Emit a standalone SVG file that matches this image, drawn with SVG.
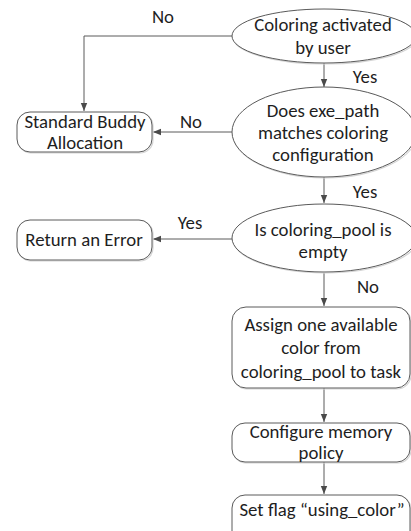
<svg xmlns="http://www.w3.org/2000/svg" width="411" height="531" viewBox="0 0 411 531">
  <style>
    .shape { fill: #ffffff; stroke: #5a5a5a; stroke-width: 1; }
    .shadow { fill: none; stroke: #d4d4d4; stroke-width: 1.2; }
    .t { font-family: Carlito, Lato, "Liberation Sans", sans-serif; font-size: 18.8px; fill: #1e1e1e; text-anchor: middle; }
    .lbl { font-family: Carlito, Lato, "Liberation Sans", sans-serif; font-size: 18.8px; fill: #1e1e1e; text-anchor: middle; }
    .conn { fill: none; stroke: #5a5a5a; stroke-width: 1; marker-end: url(#arrow); }
  </style>
  <defs>
    <marker id="arrow" viewBox="0 0 10 10" refX="10" refY="5" markerWidth="8" markerHeight="8" markerUnits="userSpaceOnUse" orient="auto">
      <path d="M0,1 L10,5 L0,9 Z" fill="#4a4a4a"/>
    </marker>
  </defs>
  <rect width="411" height="531" fill="#ffffff"/>

  <!-- connectors -->
  <g id="connectors">
    <path class="conn" d="M232,36 H84 V111"/>
    <path class="conn" d="M324,63 V87"/>
    <path class="conn" d="M232,132 H153"/>
    <path class="conn" d="M324,177 V203"/>
    <path class="conn" d="M232,239 H153"/>
    <path class="conn" d="M324,273 V306"/>
    <path class="conn" d="M324,388 V422"/>
    <path class="conn" d="M324,462 V494"/>
    <text class="lbl" x="163" y="23">No</text>
    <text class="lbl" x="365" y="83">Yes</text>
    <text class="lbl" x="191" y="128">No</text>
    <text class="lbl" x="365" y="198">Yes</text>
    <text class="lbl" x="190" y="229">Yes</text>
    <text class="lbl" x="368" y="293">No</text>
  </g>

  <g id="coloring-activated">
    <ellipse class="shadow" cx="325" cy="37" rx="92" ry="27"/>
    <ellipse class="shape" cx="324" cy="36" rx="92" ry="27"/>
    <text class="t" x="323" y="31">Coloring activated</text>
    <text class="t" x="323" y="54">by user</text>
  </g>

  <g id="exe-path-match">
    <ellipse class="shadow" cx="325" cy="133" rx="92" ry="45"/>
    <ellipse class="shape" cx="324" cy="132" rx="92" ry="45"/>
    <text class="t" x="323" y="117">Does exe_path</text>
    <text class="t" x="323" y="139">matches coloring</text>
    <text class="t" x="323" y="161">configuration</text>
  </g>

  <g id="pool-empty">
    <ellipse class="shadow" cx="325" cy="239" rx="92" ry="34"/>
    <ellipse class="shape" cx="324" cy="238" rx="92" ry="34"/>
    <text class="t" x="323" y="236">Is coloring_pool is</text>
    <text class="t" x="323" y="258">empty</text>
  </g>

  <g id="standard-buddy">
    <rect class="shadow" x="18" y="113" width="135" height="40" rx="13"/>
    <rect class="shape" x="17" y="112" width="135" height="40" rx="13"/>
    <text class="t" x="85" y="128">Standard Buddy</text>
    <text class="t" x="85" y="149">Allocation</text>
  </g>

  <g id="return-error">
    <rect class="shadow" x="18" y="221" width="135" height="40" rx="13"/>
    <rect class="shape" x="17" y="220" width="135" height="40" rx="13"/>
    <text class="t" x="84" y="246">Return an Error</text>
  </g>

  <g id="assign-color">
    <rect class="shadow" x="233" y="308" width="178" height="81" rx="14"/>
    <rect class="shape" x="232" y="307" width="178" height="81" rx="14"/>
    <text class="t" x="321" y="331">Assign one available</text>
    <text class="t" x="321" y="354">color from</text>
    <text class="t" x="321" y="378">coloring_pool to task</text>
  </g>

  <g id="configure-policy">
    <rect class="shadow" x="233" y="424" width="178" height="39" rx="13"/>
    <rect class="shape" x="232" y="423" width="178" height="39" rx="13"/>
    <text class="t" x="321" y="438">Configure memory</text>
    <text class="t" x="321" y="459">policy</text>
  </g>

  <g id="set-flag">
    <rect class="shadow" x="233" y="496" width="178" height="50" rx="13"/>
    <rect class="shape" x="232" y="495" width="178" height="50" rx="13"/>
    <text class="t" x="322" y="516">Set flag “using_color”</text>
  </g>
</svg>
